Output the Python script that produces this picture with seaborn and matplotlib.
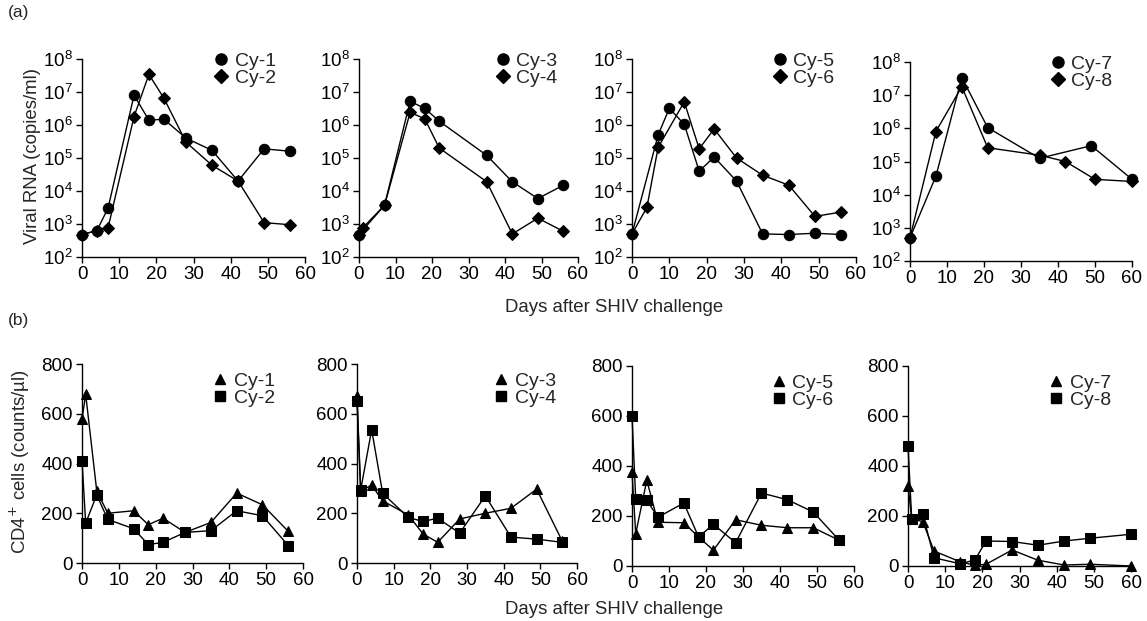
import numpy as np
import pandas as pd
import matplotlib
matplotlib.use("Agg")
import matplotlib.pyplot as plt
from matplotlib.lines import Line2D
import seaborn as sns

sns.set_theme(style="ticks")
plt.rcParams['font.family'] = ['Liberation Sans', 'DejaVu Sans']

# ---------------- data: viral RNA (copies/ml) ----------------
cy1_rna_days = [0, 4, 7, 14, 18, 22, 28, 35, 42, 49, 56]
cy1_rna = [480, 630, 3000, 8e6, 1.4e6, 1.5e6, 4e5, 1.7e5, 2e4, 1.9e5, 1.6e5]
cy2_rna_days = [0, 4, 7, 14, 18, 22, 28, 35, 42, 49, 56]
cy2_rna = [480, 630, 760, 1.8e6, 3.4e7, 6.6e6, 3e5, 6e4, 2e4, 1100, 950]

cy3_rna_days = [0, 7, 14, 18, 22, 35, 42, 49, 56]
cy3_rna = [480, 3700, 5.2e6, 3.2e6, 1.3e6, 1.2e5, 1.9e4, 5.9e3, 1.5e4]
cy4_rna_days = [0, 1, 7, 14, 18, 22, 35, 42, 49, 56]
cy4_rna = [480, 760, 3700, 2.4e6, 1.55e6, 2e5, 1.9e4, 500, 1500, 600]

cy5_rna_days = [0, 7, 10, 14, 18, 22, 28, 35, 42, 49, 56]
cy5_rna = [500, 5e5, 3.2e6, 1.05e6, 4e4, 1.07e5, 2e4, 500, 480, 525, 480]
cy6_rna_days = [0, 4, 7, 14, 18, 22, 28, 35, 42, 49, 56]
cy6_rna = [500, 3200, 2.1e5, 5e6, 1.9e5, 7.6e5, 1e5, 3e4, 1.5e4, 1700, 2300]

cy7_rna_days = [0, 7, 14, 21, 35, 49, 60]
cy7_rna = [500, 3.6e4, 3.4e7, 1.05e6, 1.25e5, 3e5, 2.9e4]
cy8_rna_days = [0, 7, 14, 21, 35, 42, 50, 60]
cy8_rna = [500, 8e5, 1.8e7, 2.6e5, 1.55e5, 1e5, 2.9e4, 2.5e4]

# ---------------- data: CD4+ cells (counts/ul) ----------------
cy1_cd4_days = [0, 1, 4, 7, 14, 18, 22, 28, 35, 42, 49, 56]
cy1_cd4 = [578, 678, 290, 200, 210, 154, 180, 123, 163, 281, 234, 127]
cy2_cd4_days = [0, 1, 4, 7, 14, 18, 22, 28, 35, 42, 49, 56]
cy2_cd4 = [412, 160, 274, 175, 138, 74, 83, 123, 130, 210, 190, 70]

cy3_cd4_days = [0, 1, 4, 7, 14, 18, 22, 28, 35, 42, 49, 56]
cy3_cd4 = [673, 290, 313, 250, 193, 117, 83, 177, 200, 220, 297, 87]
cy4_cd4_days = [0, 1, 4, 7, 14, 18, 22, 28, 35, 42, 49, 56]
cy4_cd4 = [650, 293, 536, 280, 183, 167, 180, 120, 270, 104, 96, 83]

cy5_cd4_days = [0, 1, 4, 7, 14, 18, 22, 28, 35, 42, 49, 56]
cy5_cd4 = [376, 129, 343, 175, 173, 116, 63, 185, 163, 153, 153, 103]
cy6_cd4_days = [0, 1, 4, 7, 14, 18, 22, 28, 35, 42, 49, 56]
cy6_cd4 = [599, 270, 263, 195, 252, 116, 167, 93, 292, 265, 216, 103]

cy7_cd4_days = [0, 1, 4, 7, 14, 18, 21, 28, 35, 42, 49, 60]
cy7_cd4 = [321, 190, 177, 60, 17, 3, 7, 64, 23, 4, 7, 0]
cy8_cd4_days = [0, 1, 4, 7, 14, 18, 21, 28, 35, 42, 49, 60]
cy8_cd4 = [482, 187, 207, 33, 9, 24, 100, 98, 83, 100, 111, 127]

animal_names = ["Cy-1", "Cy-2", "Cy-3", "Cy-4", "Cy-5", "Cy-6", "Cy-7", "Cy-8"]
x_ticks = [0, 10, 20, 30, 40, 50, 60]
rna_ticks = [1e2, 1e3, 1e4, 1e5, 1e6, 1e7, 1e8]
cd4_ticks = [0, 200, 400, 600, 800]

W, H = 1147, 621
fig = plt.figure(figsize=(W / 100, H / 100), dpi=100)


def box(l, r, t, b):
    return [l / W, (H - b) / H, (r - l) / W, (b - t) / H]


top_boxes = [box(82, 305, 59, 257), box(359, 578, 59, 257),
             box(632, 856, 59, 257), box(910, 1132, 62, 261)]
bot_boxes = [box(82, 303, 364, 563), box(357, 577, 364, 563),
             box(632, 854, 366, 566), box(908, 1131, 366, 566)]
leg_x = [0.59, 0.62, 0.625, 0.63]

rna_series = [
    ((cy1_rna_days, cy1_rna), (cy2_rna_days, cy2_rna)),
    ((cy3_rna_days, cy3_rna), (cy4_rna_days, cy4_rna)),
    ((cy5_rna_days, cy5_rna), (cy6_rna_days, cy6_rna)),
    ((cy7_rna_days, cy7_rna), (cy8_rna_days, cy8_rna)),
]
cd4_series = [
    ((cy1_cd4_days, cy1_cd4), (cy2_cd4_days, cy2_cd4)),
    ((cy3_cd4_days, cy3_cd4), (cy4_cd4_days, cy4_cd4)),
    ((cy5_cd4_days, cy5_cd4), (cy6_cd4_days, cy6_cd4)),
    ((cy7_cd4_days, cy7_cd4), (cy8_cd4_days, cy8_cd4)),
]

TICK_FS = 13.5
LEG_FS = 14
LAB_FS = 13.4


def style_axis(ax):
    sns.despine(ax=ax)
    for s in ("left", "bottom"):
        ax.spines[s].set_linewidth(1.0)
        ax.spines[s].set_color("black")
    ax.tick_params(direction="out", length=4, width=1.0, labelsize=TICK_FS,
                   colors="black", pad=2.5)
    ax.set_xlim(0, 60)
    ax.set_xticks(x_ticks)
    ax.set_xlabel("")
    ax.set_ylabel("")
    ax.set_facecolor("white")


def draw(ax, series, markers, sizes):
    for (days, vals), mk, ms in zip(series, markers, sizes):
        df = pd.DataFrame({"day": days, "val": vals})
        sns.lineplot(data=df, x="day", y="val", ax=ax, color="black",
                     marker=mk, markersize=ms, markeredgecolor="black",
                     markerfacecolor="black", linewidth=1.0,
                     estimator=None, sort=False, legend=False)
    for ln in ax.lines:
        ln.set_clip_on(False)


for i in range(4):
    ax = fig.add_axes(top_boxes[i])
    draw(ax, rna_series[i], ["o", "D"], [7.5, 6.5])
    ax.set_yscale("log")
    ax.set_ylim(1e2, 1e8)
    ax.set_yticks(rna_ticks)
    ax.yaxis.set_minor_locator(matplotlib.ticker.NullLocator())
    style_axis(ax)
    handles = [Line2D([], [], marker="o", color="black", linestyle="none", markersize=8),
               Line2D([], [], marker="D", color="black", linestyle="none", markersize=7)]
    ax.legend(handles, animal_names[2 * i:2 * i + 2], loc="upper left",
              bbox_to_anchor=(leg_x[i], 1.035), frameon=False, fontsize=LEG_FS,
              handlelength=0.8, handletextpad=0.3, labelspacing=0.0,
              borderpad=0, borderaxespad=0)

for i in range(4):
    ax = fig.add_axes(bot_boxes[i])
    draw(ax, cd4_series[i], ["^", "s"], [7, 6.5])
    ax.set_ylim(0, 800)
    ax.set_yticks(cd4_ticks)
    style_axis(ax)
    handles = [Line2D([], [], marker="^", color="black", linestyle="none", markersize=7),
               Line2D([], [], marker="s", color="black", linestyle="none", markersize=6.5)]
    ax.legend(handles, animal_names[2 * i:2 * i + 2], loc="upper left",
              bbox_to_anchor=(leg_x[i], 0.96), frameon=False, fontsize=LEG_FS,
              handlelength=0.8, handletextpad=0.3, labelspacing=0.0,
              borderpad=0, borderaxespad=0)

fig.text(8 / W, 1 - 12 / H, "(a)", fontsize=12.5, va="center", ha="left")
fig.text(8 / W, 1 - 320 / H, "(b)", fontsize=12.5, va="center", ha="left")
fig.text(614 / W, 1 - 307 / H, "Days after SHIV challenge", fontsize=LAB_FS,
         va="center", ha="center")
fig.text(614 / W, 1 - 609 / H, "Days after SHIV challenge", fontsize=LAB_FS,
         va="center", ha="center")
fig.text(33 / W, 1 - 156 / H, "Viral RNA (copies/ml)", fontsize=LAB_FS,
         rotation=90, va="center", ha="center")
fig.text(20 / W, 1 - 462 / H, "CD4$^{+}$ cells (counts/\u00b5l)", fontsize=LAB_FS,
         rotation=90, va="center", ha="center")

fig.savefig("out.png", dpi=100, facecolor="white")
